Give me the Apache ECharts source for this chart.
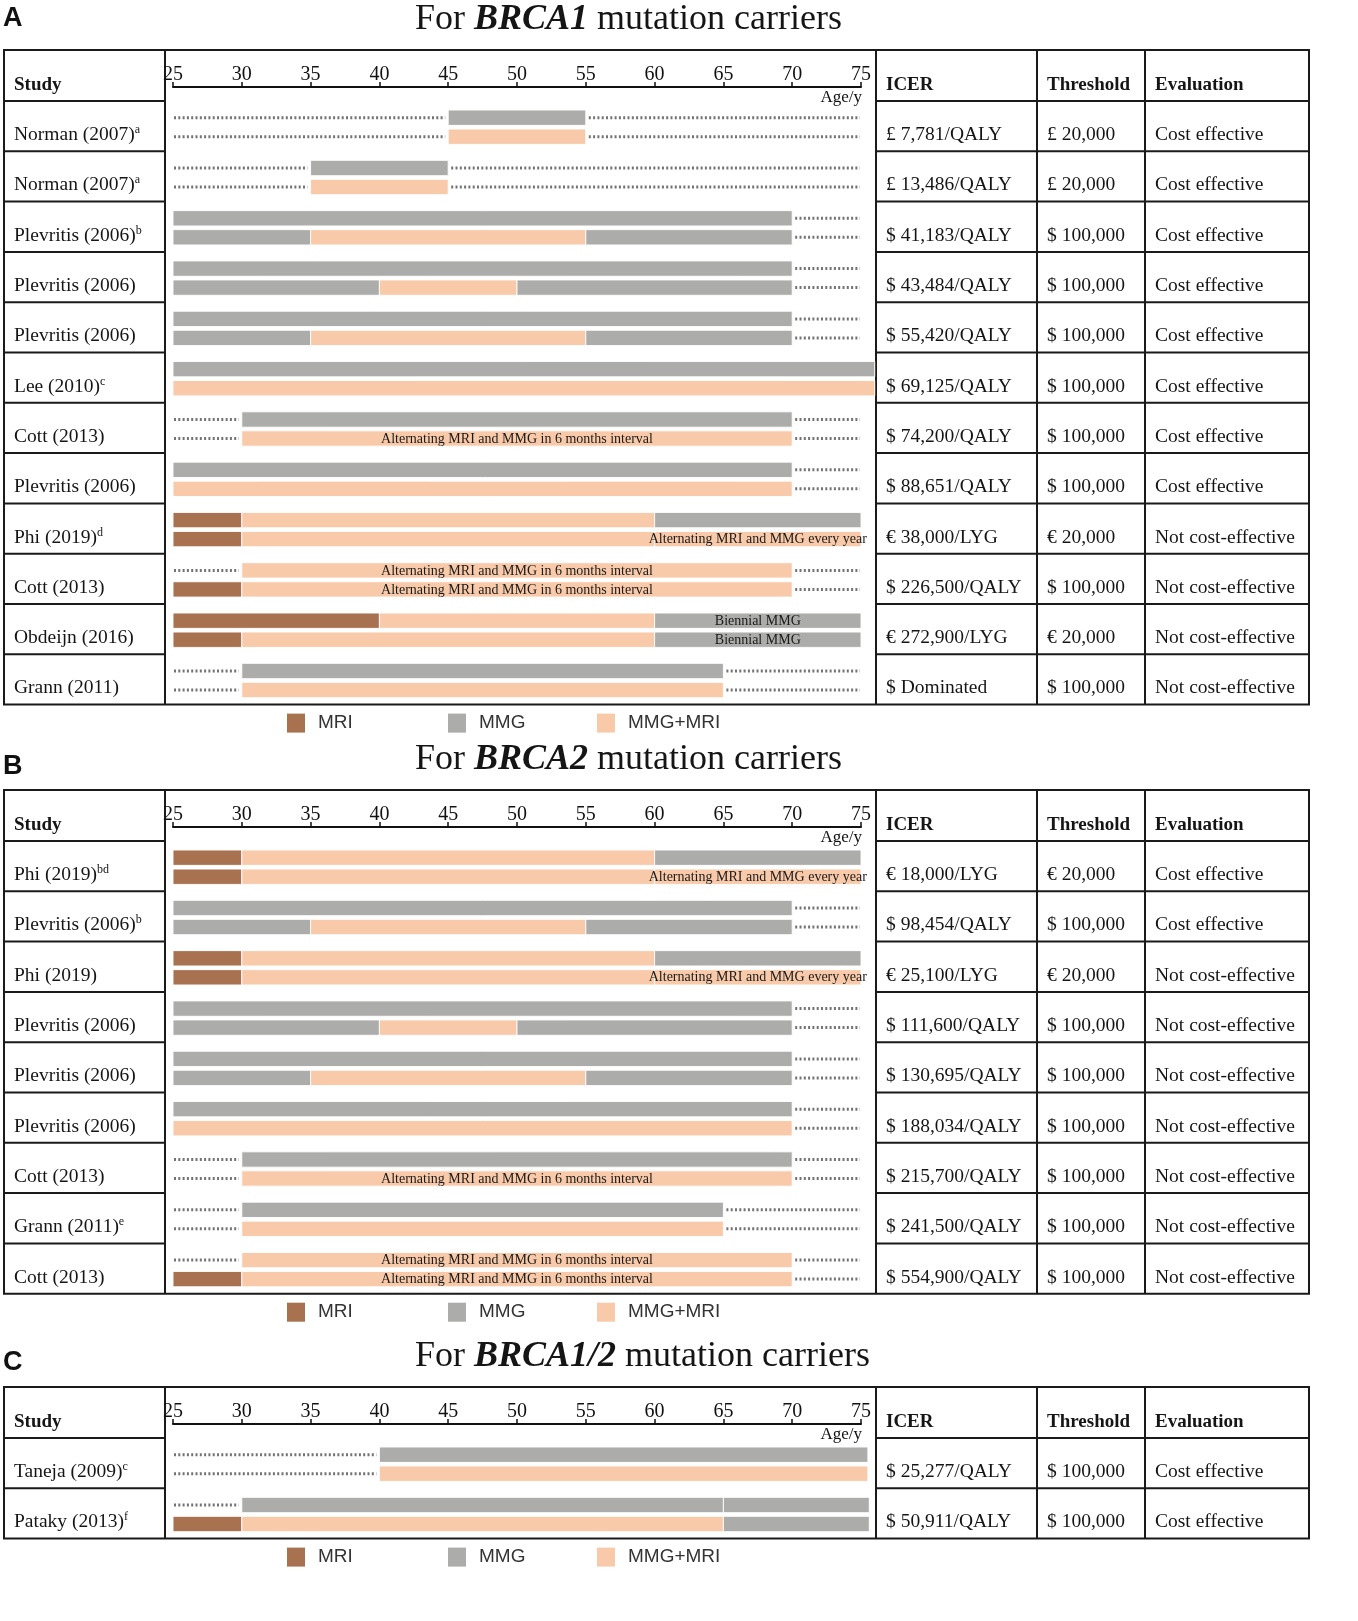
<!DOCTYPE html>
<html>
<head>
<meta charset="utf-8">
<script src="https://cdn.jsdelivr.net/npm/echarts@6/dist/echarts.min.js"></script>
<style>
html, body { margin: 0; padding: 0; background: #fff; }
#chart { width: 1358px; height: 1621px; }
</style>
</head>
<body>
<div id="chart"></div>
<script>
// screening types: 0 MRI, 1 MMG, 2 MMG+MRI
var typeNames = ['MRI', 'MMG', 'MMG+MRI'];
var typeColors = ['#a8714f', '#acacaa', '#f8caa9'];
var barNotes = ['', 'Alternating MRI and MMG in 6 months interval', 'Alternating MRI and MMG every year', 'Biennial MMG'];

var ageMin = 25, ageMax = 75, ageStep = 5;

// segments: [row, lane (0 top / 1 bottom), from age, to age, type, note]
var segA = [
  [0, 0, 45, 55, 1], [0, 1, 45, 55, 2],
  [1, 0, 35, 45, 1], [1, 1, 35, 45, 2],
  [2, 0, 25, 70, 1], [2, 1, 25, 35, 1], [2, 1, 35, 55, 2], [2, 1, 55, 70, 1],
  [3, 0, 25, 70, 1], [3, 1, 25, 40, 1], [3, 1, 40, 50, 2], [3, 1, 50, 70, 1],
  [4, 0, 25, 70, 1], [4, 1, 25, 35, 1], [4, 1, 35, 55, 2], [4, 1, 55, 70, 1],
  [5, 0, 25, 76, 1], [5, 1, 25, 76, 2],
  [6, 0, 30, 70, 1], [6, 1, 30, 70, 2, 1],
  [7, 0, 25, 70, 1], [7, 1, 25, 70, 2],
  [8, 0, 25, 30, 0], [8, 0, 30, 60, 2], [8, 0, 60, 75, 1],
  [8, 1, 25, 30, 0], [8, 1, 30, 60, 2], [8, 1, 60, 75, 2, 2],
  [9, 0, 30, 70, 2, 1], [9, 1, 25, 30, 0], [9, 1, 30, 70, 2, 1],
  [10, 0, 25, 40, 0], [10, 0, 40, 60, 2], [10, 0, 60, 75, 1, 3],
  [10, 1, 25, 30, 0], [10, 1, 30, 60, 2], [10, 1, 60, 75, 1, 3],
  [11, 0, 30, 65, 1], [11, 1, 30, 65, 2]
];
var studyA = ['Norman (2007)', 'Norman (2007)', 'Plevritis (2006)', 'Plevritis (2006)', 'Plevritis (2006)', 'Lee (2010)',
  'Cott (2013)', 'Plevritis (2006)', 'Phi (2019)', 'Cott (2013)', 'Obdeijn (2016)', 'Grann (2011)'];
var supA = ['a', 'a', 'b', '', '', 'c', '', '', 'd', '', '', ''];
var icerA = ['£ 7,781/QALY', '£ 13,486/QALY', '$ 41,183/QALY', '$ 43,484/QALY', '$ 55,420/QALY', '$ 69,125/QALY',
  '$ 74,200/QALY', '$ 88,651/QALY', '€ 38,000/LYG', '$ 226,500/QALY', '€ 272,900/LYG', '$ Dominated'];
var thresholdA = ['£ 20,000', '£ 20,000', '$ 100,000', '$ 100,000', '$ 100,000', '$ 100,000',
  '$ 100,000', '$ 100,000', '€ 20,000', '$ 100,000', '€ 20,000', '$ 100,000'];
var evaluationA = ['Cost effective', 'Cost effective', 'Cost effective', 'Cost effective', 'Cost effective', 'Cost effective',
  'Cost effective', 'Cost effective', 'Not cost-effective', 'Not cost-effective', 'Not cost-effective', 'Not cost-effective'];

var segB = [
  [0, 0, 25, 30, 0], [0, 0, 30, 60, 2], [0, 0, 60, 75, 1],
  [0, 1, 25, 30, 0], [0, 1, 30, 60, 2], [0, 1, 60, 75, 2, 2],
  [1, 0, 25, 70, 1], [1, 1, 25, 35, 1], [1, 1, 35, 55, 2], [1, 1, 55, 70, 1],
  [2, 0, 25, 30, 0], [2, 0, 30, 60, 2], [2, 0, 60, 75, 1],
  [2, 1, 25, 30, 0], [2, 1, 30, 60, 2], [2, 1, 60, 75, 2, 2],
  [3, 0, 25, 70, 1], [3, 1, 25, 40, 1], [3, 1, 40, 50, 2], [3, 1, 50, 70, 1],
  [4, 0, 25, 70, 1], [4, 1, 25, 35, 1], [4, 1, 35, 55, 2], [4, 1, 55, 70, 1],
  [5, 0, 25, 70, 1], [5, 1, 25, 70, 2],
  [6, 0, 30, 70, 1], [6, 1, 30, 70, 2, 1],
  [7, 0, 30, 65, 1], [7, 1, 30, 65, 2],
  [8, 0, 30, 70, 2, 1], [8, 1, 25, 30, 0], [8, 1, 30, 70, 2, 1]
];
var studyB = ['Phi (2019)', 'Plevritis (2006)', 'Phi (2019)', 'Plevritis (2006)', 'Plevritis (2006)', 'Plevritis (2006)',
  'Cott (2013)', 'Grann (2011)', 'Cott (2013)'];
var supB = ['bd', 'b', '', '', '', '', '', 'e', ''];
var icerB = ['€ 18,000/LYG', '$ 98,454/QALY', '€ 25,100/LYG', '$ 111,600/QALY', '$ 130,695/QALY', '$ 188,034/QALY',
  '$ 215,700/QALY', '$ 241,500/QALY', '$ 554,900/QALY'];
var thresholdB = ['€ 20,000', '$ 100,000', '€ 20,000', '$ 100,000', '$ 100,000', '$ 100,000',
  '$ 100,000', '$ 100,000', '$ 100,000'];
var evaluationB = ['Cost effective', 'Cost effective', 'Not cost-effective', 'Not cost-effective', 'Not cost-effective',
  'Not cost-effective', 'Not cost-effective', 'Not cost-effective', 'Not cost-effective'];

var segC = [
  [0, 0, 40, 75.5, 1], [0, 1, 40, 75.5, 2],
  [1, 0, 30, 65, 1], [1, 0, 65, 75.6, 1],
  [1, 1, 25, 30, 0], [1, 1, 30, 65, 2], [1, 1, 65, 75.6, 1]
];
var studyC = ['Taneja (2009)', 'Pataky (2013)'];
var supC = ['c', 'f'];
var icerC = ['$ 25,277/QALY', '$ 50,911/QALY'];
var thresholdC = ['$ 100,000', '$ 100,000'];
var evaluationC = ['Cost effective', 'Cost effective'];

// page layout
var colX = [4, 165, 876, 1037, 1145, 1309];
var textX = [14, 886, 1047, 1155];
var headerH = 51, rowH = 50.3;
var laneCenter = [0.332, 0.71], barH = 0.305, textRow = 0.676;
var serif = '"Liberation Serif", "Times New Roman", serif';
var sans = '"Liberation Sans", Arial, sans-serif';
var ink = '#151515';

var panels = [
  { letter: 'A', gene: 'BRCA1', top: 50, letterY: 19, seg: segA, study: studyA, sup: supA, icer: icerA, thr: thresholdA, ev: evaluationA },
  { letter: 'B', gene: 'BRCA2', top: 790, letterY: 767, seg: segB, study: studyB, sup: supB, icer: icerB, thr: thresholdB, ev: evaluationB },
  { letter: 'C', gene: 'BRCA1/2', top: 1387, letterY: 1363, seg: segC, study: studyC, sup: supC, icer: icerC, thr: thresholdC, ev: evaluationC }
];

function dottedSpans(segs) {
  var span = {};
  segs.forEach(function (s) {
    var k = s[0] + '_' + s[1];
    if (!span[k]) span[k] = [s[0], s[1], s[2], s[3]];
    span[k][2] = Math.min(span[k][2], s[2]);
    span[k][3] = Math.max(span[k][3], s[3]);
  });
  var out = [];
  Object.keys(span).forEach(function (k) {
    var v = span[k];
    if (v[2] > ageMin) out.push([v[0], v[1], ageMin, v[2], 0]);
    if (v[3] < ageMax) out.push([v[0], v[1], v[3], ageMax, 1]);
  });
  return out;
}

function renderBar(params, api) {
  var y = api.value(0) + laneCenter[api.value(1)];
  var p1 = api.coord([api.value(2), y]);
  var p2 = api.coord([api.value(3), y]);
  var h = api.size([0, barH])[1];
  var kids = [{
    type: 'rect',
    shape: { x: p1[0], y: p1[1] - h / 2, width: p2[0] - p1[0], height: h },
    style: { fill: typeColors[api.value(4)], stroke: 'rgba(255,255,255,0.9)', lineWidth: 1 }
  }];
  var note = barNotes[api.value(5)];
  if (note) {
    kids.push({
      type: 'text', x: (p1[0] + p2[0]) / 2, y: p1[1] + 0.5,
      style: { text: note, fontFamily: serif, fontSize: 14, fill: '#1a1a1a', align: 'center', verticalAlign: 'middle' }
    });
  }
  return { type: 'group', children: kids };
}

function renderDots(params, api) {
  var y = api.value(0) + laneCenter[api.value(1)];
  var p1 = api.coord([api.value(2), y]);
  var p2 = api.coord([api.value(3), y]);
  var x1 = p1[0] + 1, x2 = p2[0] - 1;
  if (api.value(4) === 0) x2 = p2[0] - 3; else x1 = p1[0] + 3;
  return {
    type: 'line',
    shape: { x1: x1, y1: p1[1], x2: x2, y2: p1[1] },
    style: { stroke: '#737373', lineWidth: 3, lineDash: [2, 2.3] }
  };
}

function renderRowText(p) {
  return function (params, api) {
    var i = params.dataIndex;
    var y = api.coord([ageMin, api.value(0) + textRow])[1];
    var base = { fontFamily: serif, fontSize: 19.5, fill: ink, verticalAlign: 'middle' };
    var name = '{n|' + p.study[i] + '}' + (p.sup[i] ? '{s|' + p.sup[i] + '}' : '');
    var cells = [name, p.icer[i], p.thr[i], p.ev[i]];
    return {
      type: 'group',
      children: cells.map(function (t, k) {
        var st = Object.assign({ text: t }, base);
        if (k === 0) {
          st.rich = {
            n: { fontFamily: serif, fontSize: 19.5, lineHeight: 22, fill: ink },
            s: { fontFamily: serif, fontSize: 12, lineHeight: 12, fill: ink, verticalAlign: 'top' }
          };
        }
        return { type: 'text', x: textX[k], y: y, style: st };
      })
    };
  };
}

var grids = [], xAxes = [], yAxes = [], series = [], legends = [], graphics = [];
var legendX = [287, 448, 597];

panels.forEach(function (p, gi) {
  var n = p.study.length;
  var gTop = p.top + headerH;
  var bottom = gTop + n * rowH;
  grids.push({ left: colX[1] + 8, width: 688, top: gTop, height: n * rowH, outerBoundsMode: 'none' });
  xAxes.push({
    gridIndex: gi, type: 'value', min: ageMin, max: ageMax, interval: ageStep,
    position: 'top', offset: 14,
    axisLine: { onZero: false, lineStyle: { color: '#111', width: 2 } },
    axisTick: { length: 5, lineStyle: { color: '#111', width: 1.5 } },
    axisLabel: { fontFamily: serif, fontSize: 20, color: '#111', margin: 2, showMinLabel: true, showMaxLabel: true },
    splitLine: { show: false },
    name: 'Age/y', nameLocation: 'end', nameGap: 1, nameMoveOverlap: false,
    nameTextStyle: { fontFamily: serif, fontSize: 17, color: '#111', align: 'right', verticalAlign: 'top', padding: [2, 0, 0, 0] }
  });
  yAxes.push({ gridIndex: gi, type: 'value', min: 0, max: n, inverse: true, show: false });

  series.push({
    type: 'custom', coordinateSystem: 'cartesian2d', xAxisIndex: gi, yAxisIndex: gi,
    renderItem: renderDots, data: dottedSpans(p.seg), silent: true, z: 2
  });
  series.push({
    type: 'custom', coordinateSystem: 'cartesian2d', xAxisIndex: gi, yAxisIndex: gi,
    renderItem: renderBar, silent: true, z: 3,
    data: p.seg.map(function (s) { return [s[0], s[1], s[2], s[3], s[4], s[5] || 0]; })
  });
  series.push({
    type: 'custom', coordinateSystem: 'cartesian2d', xAxisIndex: gi, yAxisIndex: gi,
    renderItem: renderRowText(p), silent: true, z: 4,
    data: p.study.map(function (s, i) { return [i]; })
  });

  typeNames.forEach(function (t, k) {
    legends.push({
      data: [t], left: legendX[k], top: bottom + 9, icon: 'rect', itemWidth: 18, itemHeight: 19,
      selectedMode: false, padding: 0,
      textStyle: { fontFamily: sans, fontSize: 19, color: '#333', padding: [0, 0, 0, 8] }
    });
  });

  // table frame
  var lineStyle = { stroke: '#1a1a1a', lineWidth: 2 };
  graphics.push({ type: 'rect', silent: true, shape: { x: colX[0], y: p.top, width: colX[5] - colX[0], height: bottom - p.top }, style: { fill: 'none', stroke: '#1a1a1a', lineWidth: 2 } });
  for (var c = 1; c < 5; c++) {
    graphics.push({ type: 'line', silent: true, shape: { x1: colX[c], y1: p.top, x2: colX[c], y2: bottom }, style: lineStyle });
  }
  for (var r = 0; r < n; r++) {
    var ry = gTop + r * rowH;
    graphics.push({ type: 'line', silent: true, shape: { x1: colX[0], y1: ry, x2: colX[1], y2: ry }, style: lineStyle });
    graphics.push({ type: 'line', silent: true, shape: { x1: colX[2], y1: ry, x2: colX[5], y2: ry }, style: lineStyle });
  }
  ['Study', 'ICER', 'Threshold', 'Evaluation'].forEach(function (h, k) {
    graphics.push({ type: 'text', silent: true, x: textX[k], y: p.top + 35,
      style: { text: h, fontFamily: serif, fontSize: 19, fontWeight: 'bold', fill: ink, verticalAlign: 'middle' } });
  });
  graphics.push({ type: 'text', silent: true, x: 415, y: p.top - 30,
    style: {
      text: '{n|For }{b|' + p.gene + '}{n| mutation carriers}', verticalAlign: 'middle',
      rich: {
        n: { fontFamily: serif, fontSize: 36, fill: ink },
        b: { fontFamily: serif, fontSize: 36, fontWeight: 'bold', fontStyle: 'italic', fill: ink }
      }
    } });
  graphics.push({ type: 'text', silent: true, x: 3, y: p.letterY,
    style: { text: p.letter, fontFamily: sans, fontSize: 27, fontWeight: 'bold', fill: '#111', verticalAlign: 'middle' } });
});

// empty series so the legends get their colour keys
typeNames.forEach(function (t, k) {
  series.push({ type: 'bar', name: t, data: [], xAxisIndex: 0, yAxisIndex: 0, itemStyle: { color: typeColors[k] } });
});

var myChart = echarts.init(document.getElementById('chart'));
myChart.setOption({
  animation: false,
  backgroundColor: '#fff',
  grid: grids,
  xAxis: xAxes,
  yAxis: yAxes,
  legend: legends,
  graphic: graphics,
  series: series
});
</script>
</body>
</html>
